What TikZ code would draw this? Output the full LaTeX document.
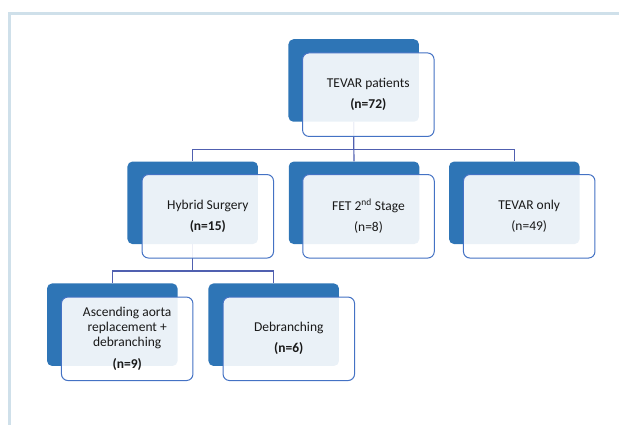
\documentclass[tikz,border=0pt]{standalone}
\usepackage{fontspec}
\setmainfont{Carlito}
\usepackage{xcolor}
\usetikzlibrary{positioning, calc}

\definecolor{darkbl}{RGB}{46,117,182}
\definecolor{edgebl}{RGB}{68,114,196}
\definecolor{linebl}{RGB}{80,96,176}
\definecolor{framebl}{RGB}{207,224,234}

\begin{document}
\begin{tikzpicture}[x=1pt, y=-1pt,
  every node/.style={font=\fontsize{13.5}{14.8}\selectfont, text=black!90},
  bk/.style={rounded corners=5pt, fill=darkbl, minimum width=130.5pt, minimum height=82.5pt, inner sep=0pt},
  fr/.style={rounded corners=6.5pt, draw=edgebl, line width=1pt, fill=white, fill opacity=0.9, text opacity=1,
    minimum width=131.5pt, minimum height=83.5pt, align=center, inner sep=2pt},
  ln/.style={draw=linebl, line width=1.1pt},
  frame/.style={draw=framebl, line width=3pt}]
\useasboundingbox (0,0) rectangle (619,425);
\draw[frame] (9.5,425) -- (9.5,13.5) -- (619,13.5);
% back boxes
\node[bk] (tp) at (353.7,80.5)  {};
\node[bk] (hy) at (192.7,202.8) {};
\node[bk] (fe) at (354.0,202.8) {};
\node[bk] (to) at (514.3,202.8) {};
\node[bk] (as) at (112.3,324.7) {};
\node[bk] (de) at (273.7,324.7) {};
% connectors
\draw[ln] (tp.south) -- ++(0,27.3) -| (hy.north);
\draw[ln] (tp.south) -- (fe.north);
\draw[ln] (tp.south) -- ++(0,27.3) -| (to.north);
\draw[ln] (hy.south) -- ++(0,26.7) -| (as.north);
\draw[ln] (hy.south) -- ++(0,26.7) -| (de.north);
% front boxes
\node[fr] (tpf) at (368.3,94.7)  {TEVAR patients\\[6.2pt] \textbf{(n=72)}};
\node[fr] (hyf) at (207.8,216.3) {Hybrid Surgery\\[6.2pt] \textbf{(n=15)}};
\node[fr] (fef) at (368.5,216.3) {FET 2\textsuperscript{nd} Stage\\[6.2pt] (n=8)};
\node[fr] (tof) at (529.2,216.3) {TEVAR only\\[6.2pt] (n=49)};
\node[fr] (asf) at (127.2,338.8) {Ascending aorta\\replacement +\\debranching\\[6.8pt] \textbf{(n=9)}};
\node[fr] (def) at (288.8,338.8) {Debranching\\[6.2pt] \textbf{(n=6)}};
\end{tikzpicture}
\end{document}
